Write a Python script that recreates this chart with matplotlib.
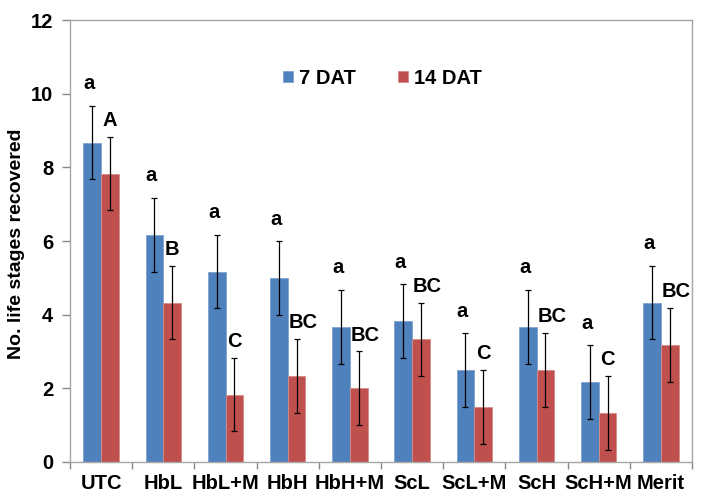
import matplotlib
matplotlib.use("Agg")
import matplotlib.pyplot as plt
import numpy as np

# datos
treatments = ["UTC", "HbL", "HbL+M", "HbH", "HbH+M", "ScL", "ScL+M", "ScH", "ScH+M", "Merit"]
dat7 = [8.67, 6.17, 5.17, 5.0, 3.67, 3.83, 2.5, 3.67, 2.17, 4.33]
dat14 = [7.83, 4.33, 1.83, 2.33, 2.0, 3.33, 1.5, 2.5, 1.33, 3.17]
err7 = [1.0, 1.0, 1.0, 1.0, 1.0, 1.0, 1.0, 1.0, 1.0, 1.0]
err14 = [1.0, 1.0, 1.0, 1.0, 1.0, 1.0, 1.0, 1.0, 1.0, 1.0]
letters7 = ["a"] * 10
letters14 = ["A", "B", "C", "BC", "BC", "BC", "C", "BC", "C", "BC"]

plt.rcParams["font.family"] = ["Liberation Sans", "DejaVu Sans"]
plt.rcParams["font.weight"] = "bold"
fs = 14.5

fig = plt.figure(figsize=(7.01, 4.93), dpi=100)
ax = fig.add_axes([0.0999, 0.0629, 0.8873, 0.8965])

x = np.arange(len(treatments))
w = 0.285
ax.bar(x - w / 2, dat7, w, color="#4F81BD", edgecolor="#7FA3D0", linewidth=0.6, label="7 DAT")
ax.bar(x + w / 2, dat14, w, color="#C0504D", edgecolor="#D48C8A", linewidth=0.6, label="14 DAT")
ax.errorbar(x - w / 2, dat7, yerr=err7, fmt="none", ecolor="black", elinewidth=0.9, capsize=2.5, capthick=0.9)
ax.errorbar(x + w / 2, dat14, yerr=err14, fmt="none", ecolor="black", elinewidth=0.9, capsize=2.5, capthick=0.9)

# letras de significancia
for i in range(len(treatments)):
    ax.annotate(letters7[i], (x[i] - w / 2 - 0.05, dat7[i] + err7[i]), xytext=(0, 9),
                textcoords="offset points", ha="center", va="bottom", fontsize=fs, fontweight="bold")
    dx = 4.5 if len(letters14[i]) > 1 else 0
    ax.annotate(letters14[i], (x[i] + w / 2, dat14[i] + err14[i]), xytext=(dx, 5),
                textcoords="offset points", ha="center", va="bottom", fontsize=fs, fontweight="bold")

ax.set_xlim(-0.5, len(treatments) - 0.5)
ax.set_ylim(0, 12)
ax.set_yticks(range(0, 13, 2))
ax.set_xticks(np.arange(-0.5, len(treatments), 1.0))
ax.set_xticklabels([])
ax.set_xticks(x, minor=True)
ax.set_xticklabels(treatments, minor=True)
ax.tick_params(axis="x", which="minor", length=0, pad=9, labelsize=fs)
ax.tick_params(axis="x", which="major", length=5, color="#888888", width=1)
ax.tick_params(axis="y", length=6, color="#888888", width=1, pad=6, labelsize=fs)
for lab in ax.get_xticklabels(minor=True) + ax.get_yticklabels():
    lab.set_fontweight("bold")

for s in ax.spines.values():
    s.set_color("#A6A6A6")
    s.set_linewidth(1.0)

ax.set_ylabel("No. life stages recovered", fontsize=14, fontweight="bold")
ax.yaxis.set_label_coords(-0.073, 0.493)

ax.legend(loc="center", bbox_to_anchor=(0.502, 0.868), ncol=2, frameon=False,
          handlelength=0.5, handleheight=0.5, handletextpad=0.3, columnspacing=2.1,
          prop={"weight": "bold", "size": fs})

fig.savefig("out.png", dpi=100)
